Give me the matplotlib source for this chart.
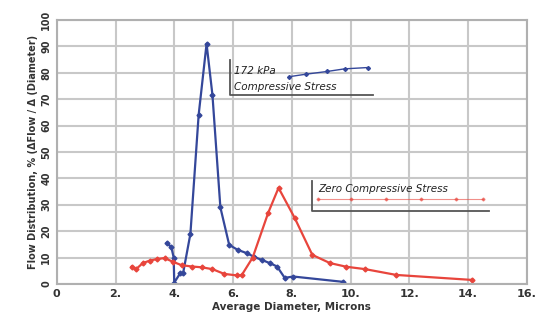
import matplotlib
matplotlib.use('Agg')
import matplotlib.pyplot as plt

# 172 kPa compressive stress
blue_x = [3.74, 3.9, 3.98, 4.0, 4.2, 4.3, 4.55, 4.83, 5.1, 5.3, 5.57, 5.87,
          6.16, 6.46, 6.73, 7.0, 7.25, 7.5, 7.76, 8.05, 9.73]
blue_y = [15.5, 14, 10, 0.5, 4, 4, 19, 64, 91, 71.6, 29, 14.8,
          12.9, 11.7, 10.2, 9, 7.9, 6.6, 2.3, 2.8, 0.8]

# zero compressive stress
red_x = [2.55, 2.7, 2.93, 3.16, 3.4, 3.67, 3.95, 4.25, 4.6, 4.93, 5.3, 5.7,
         6.15, 6.3, 6.67, 7.2, 7.55, 8.1, 8.7, 9.3, 9.86, 10.5, 11.56, 14.15]
red_y = [6.6, 5.6, 7.9, 8.8, 9.4, 9.8, 8.4, 7.1, 6.6, 6.3, 5.6, 3.8,
         3.2, 3.4, 10, 27, 36.4, 25, 11, 7.9, 6.5, 5.6, 3.4, 1.5]

xticks = [0, 2, 4, 6, 8, 10, 12, 14, 16]
xlabels = ['0', '2.', '4.', '6.', '8.', '10.', '12.', '14.', '16.']
yticks = list(range(0, 101, 10))

blue = '#34479a'
red = '#e8453c'

fig = plt.figure(figsize=(5.51, 3.23), dpi=100)
ax = fig.add_axes([0.103, 0.121, 0.853, 0.817])

ax.plot(blue_x, blue_y, color=blue, lw=1.6, marker='D', ms=2.5)
ax.plot(red_x, red_y, color=red, lw=1.6, marker='D', ms=2.5)

ax.set_xlim(0, 16)
ax.set_ylim(0, 100)
ax.set_xticks(xticks)
ax.set_xticklabels(xlabels, fontsize=8, fontweight='bold', color='#333333')
ax.set_yticks(yticks)
ax.set_yticklabels([str(v) for v in yticks], fontsize=7, fontweight='bold',
                   rotation=90, va='center', color='#333333')
ax.tick_params(length=0, pad=4)
ax.grid(True, color='#c8c8c8', lw=1.5)
for s in ax.spines.values():
    s.set_color('#b0b0b0')
    s.set_linewidth(1.5)

ax.set_xlabel('Average Diameter, Microns', fontsize=7.5, fontweight='bold',
              labelpad=2, color='#333333')
ax.set_ylabel('Flow Distribution, % (\u0394Flow / \u0394 (Diameter)', fontsize=7,
              fontweight='bold', labelpad=2, color='#333333')

# annotation boxes
ax.plot([5.9, 5.9, 10.75], [85, 71.5, 71.5], color='#555555', lw=1.3, clip_on=False)
ax.text(6.05, 80.5, '172 kPa', fontsize=7.5, style='italic', color='#222222', va='center')
ax.text(6.05, 74.5, 'Compressive Stress', fontsize=7.5, style='italic', color='#222222', va='center')
ax.plot([7.9, 8.5, 9.2, 9.8, 10.6], [78.5, 79.5, 80.5, 81.5, 82], color=blue, lw=1,
        marker='D', ms=2)

ax.plot([8.7, 8.7, 14.7], [39, 27.5, 27.5], color='#555555', lw=1.3)
ax.text(8.9, 36, 'Zero Compressive Stress', fontsize=7.5, style='italic', color='#222222', va='center')
ax.plot([8.9, 10, 11.2, 12.4, 13.6, 14.5], [32, 32, 32, 32, 32, 32], color=red, lw=0.8,
        marker='D', ms=1.5, alpha=0.6)

fig.savefig('out.png', dpi=100)
